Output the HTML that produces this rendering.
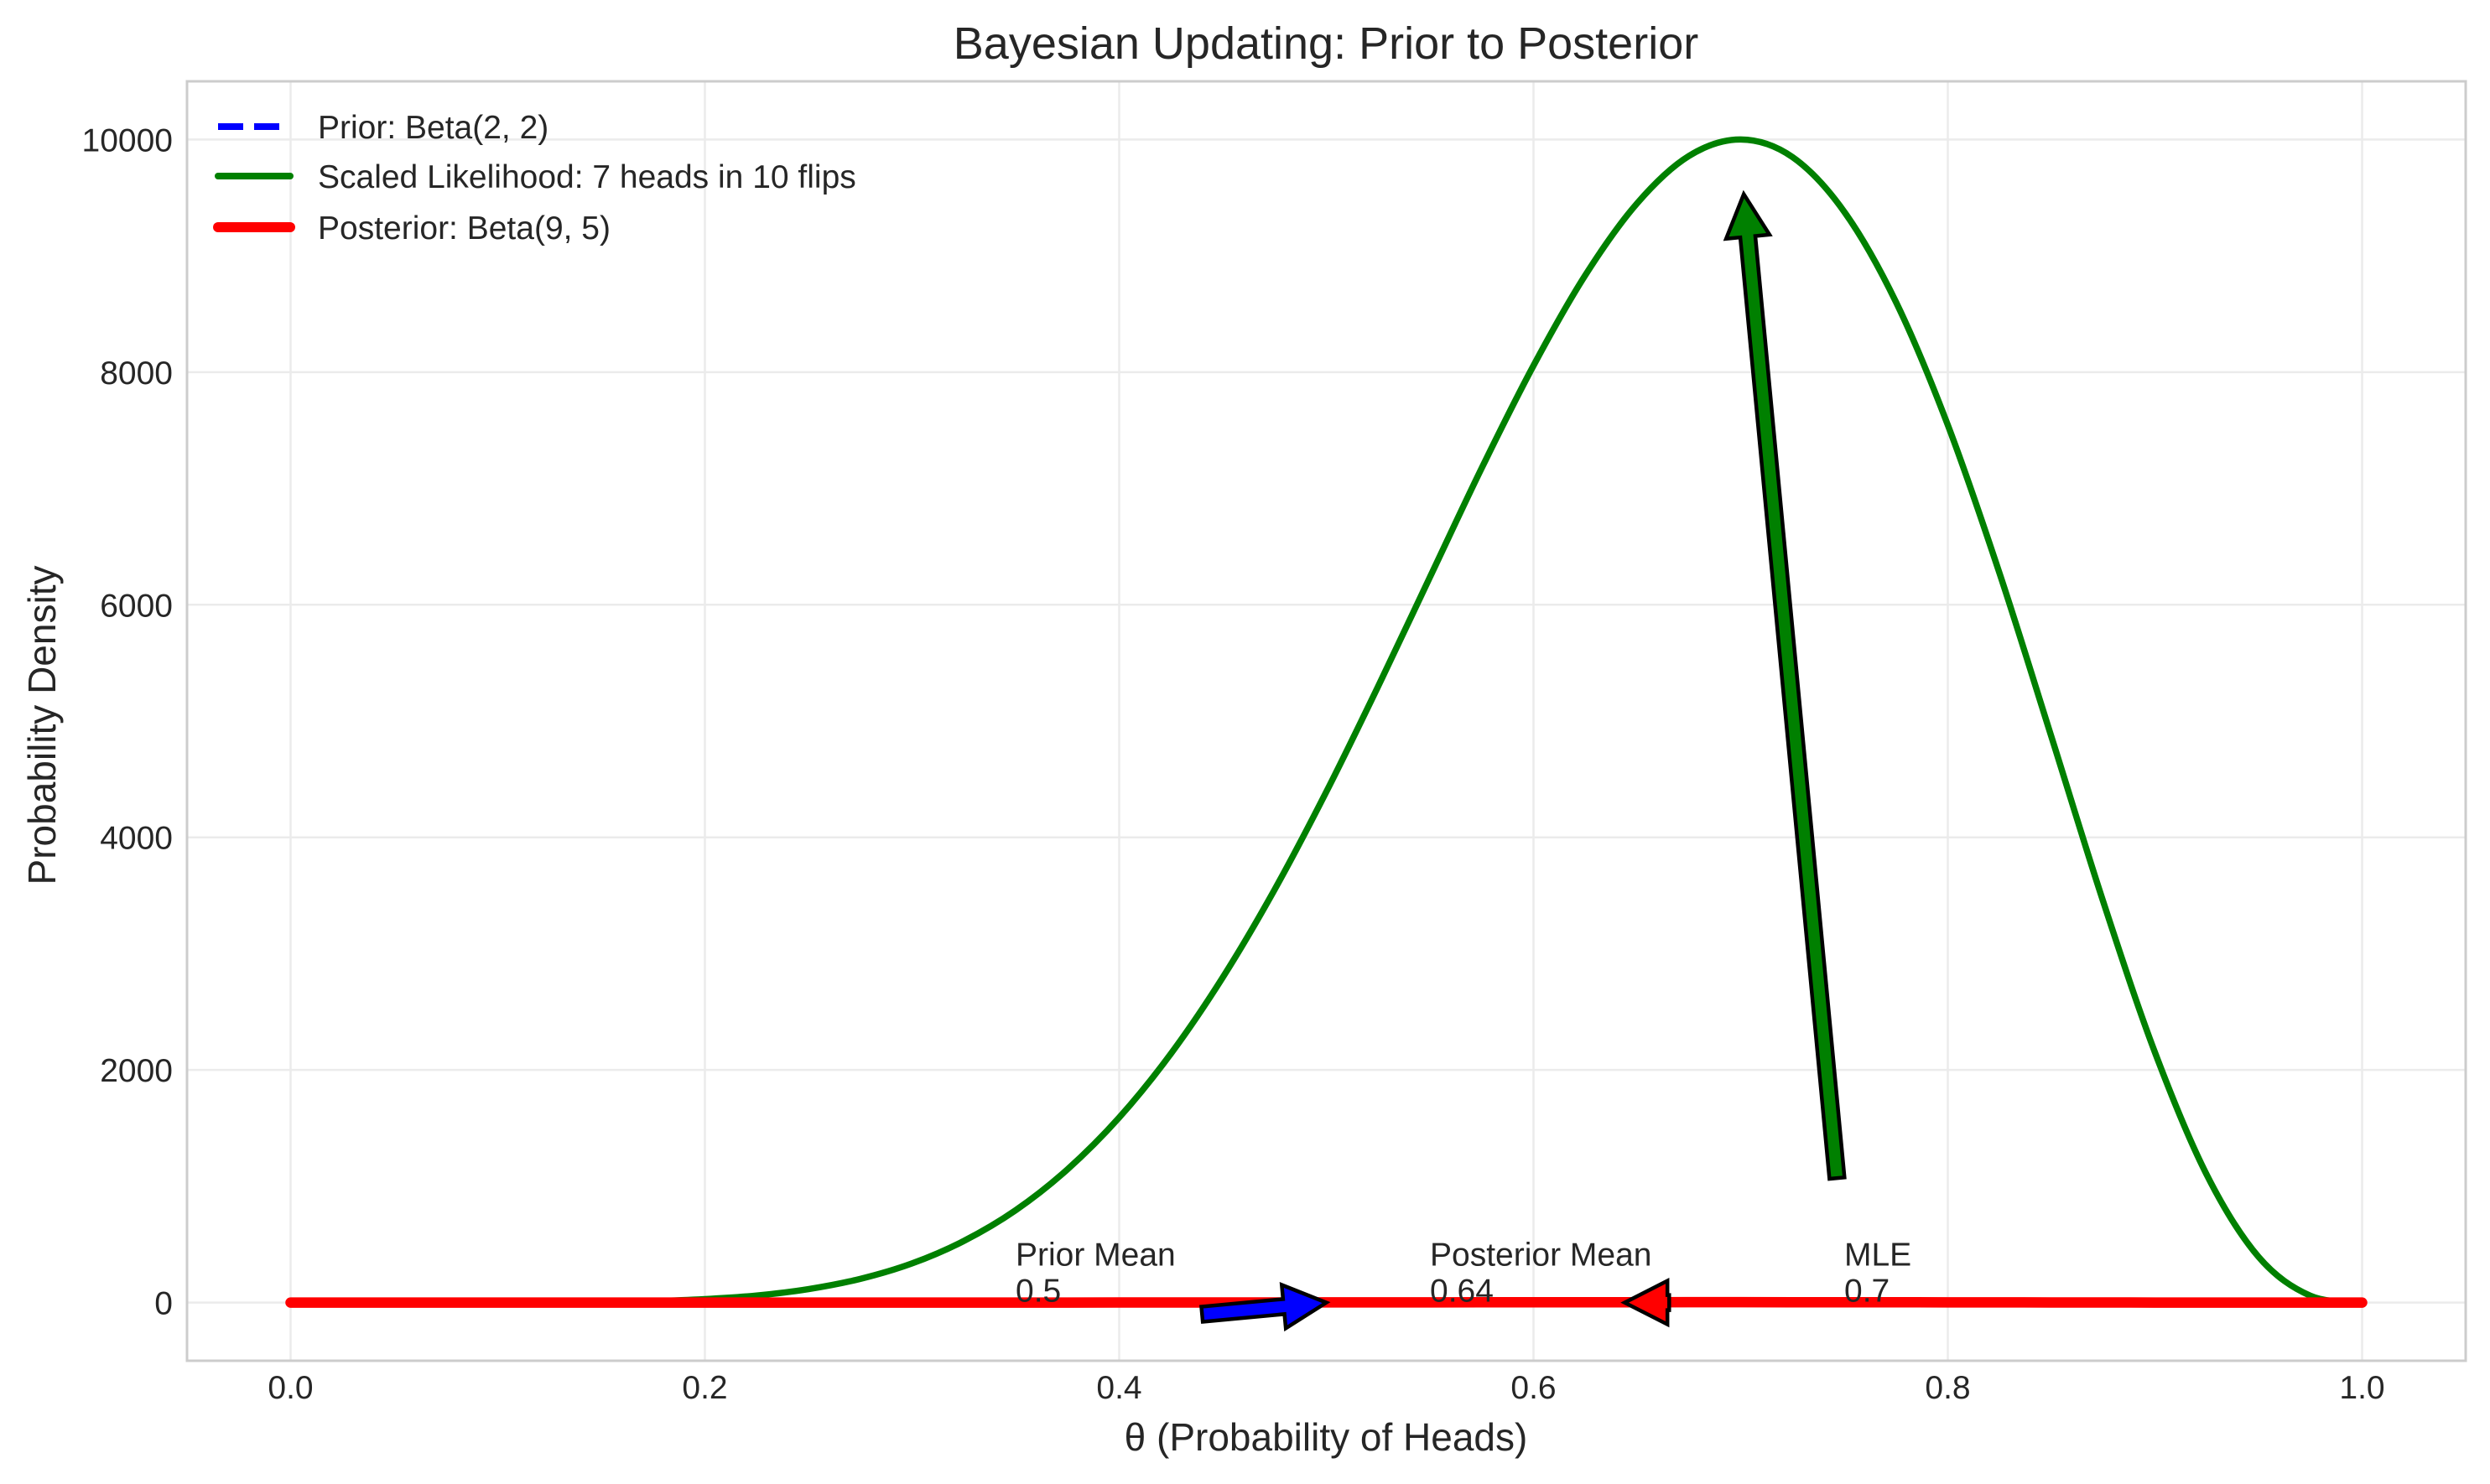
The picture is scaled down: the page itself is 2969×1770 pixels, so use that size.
<!DOCTYPE html>
<html><head><meta charset="utf-8"><style>
html,body{margin:0;padding:0;background:#fff;}
svg{display:block;font-family:"Liberation Sans",Arial,sans-serif;}
</style></head><body>
<svg id="chart" width="2969" height="1770" viewBox="0 0 2969 1770" xmlns="http://www.w3.org/2000/svg">
<rect x="0" y="0" width="2969" height="1770" fill="#fff"/>
<text x="1581" y="70" font-size="54" fill="#262626" text-anchor="middle">Bayesian Updating: Prior to Posterior</text>
<g id="grid"></g>
<g id="series"></g>
<g id="annots"></g>
<rect x="223" y="97" width="2717" height="1526" fill="none" stroke="#cccccc" stroke-width="3"/>
<g id="ticks"></g>
<text x="1581" y="1730" font-size="46" fill="#262626" text-anchor="middle">θ (Probability of Heads)</text>
<text transform="translate(66,865) rotate(-90)" font-size="46" fill="#262626" text-anchor="middle">Probability Density</text>
<g id="legend">
  <line x1="260" y1="151" x2="337" y2="151" stroke="#0000ff" stroke-width="8" stroke-dasharray="30,13"/>
  <text x="379" y="165" font-size="39" fill="#262626">Prior: Beta(2, 2)</text>
  <line x1="260" y1="210" x2="346" y2="210" stroke="#008000" stroke-width="8" stroke-linecap="round"/>
  <text x="379" y="224" font-size="39" fill="#262626">Scaled Likelihood: 7 heads in 10 flips</text>
  <line x1="260" y1="271" x2="346" y2="271" stroke="#ff0000" stroke-width="12" stroke-linecap="round"/>
  <text x="379" y="285" font-size="39" fill="#262626">Posterior: Beta(9, 5)</text>
</g>
</svg>
<script>
const likeTheta = [0,0.025,0.05,0.075,0.1,0.125,0.15,0.175,0.2,0.225,0.25,0.275,0.3,0.325,0.35,0.375,0.4,0.425,0.45,0.475,0.5,0.525,0.55,0.575,0.6,0.625,0.65,0.675,0.7,0.725,0.75,0.775,0.8,0.825,0.85,0.875,0.9,0.925,0.95,0.975,1.0];
const likelihoodValues = [0,0,0,0,0.3,1.5,5,12.7,30,61,116,204,337,530,794,1145,1591,2141,2796,3550,4392,5298,6237,7175,8056,8833,9451,9858,10000,9849,9379,8602,7545,6269,4866,3449,2151,1099,393,59,0];
const densTheta = [0,0.05,0.1,0.15,0.2,0.25,0.3,0.35,0.4,0.45,0.5,0.55,0.6,0.65,0.7,0.75,0.8,0.85,0.9,0.95,1.0];
const priorValues = [0,0.14,0.27,0.38,0.48,0.56,0.63,0.68,0.72,0.74,0.75,0.74,0.72,0.68,0.63,0.56,0.48,0.38,0.27,0.14,0];
const posteriorValues = [0,0,0,0,0.01,0.03,0.1,0.3,0.6,1.1,1.7,2.3,2.9,3.2,3.3,3.0,2.3,1.3,0.5,0.05,0];
const xTicks = [0.0,0.2,0.4,0.6,0.8,1.0];
const xTickLabels = ["0.0","0.2","0.4","0.6","0.8","1.0"];
const yTicks = [0,2000,4000,6000,8000,10000];
const yTickLabels = ["0","2000","4000","6000","8000","10000"];
const annotLabels = ["Prior Mean","Posterior Mean","MLE"];
const annotValues = ["0.5","0.64","0.7"];
const annotTextX = [0.35,0.55,0.75];
const annotTextY = [0,0,0];
const arrowTail = [[0.44,-100],[0.6655,0],[0.7465,1070]];
const arrowTip = [[0.5,0],[0.644,0],[0.7015,9530]];
const arrowColors = ["#0000ff","#ff0000","#008000"];

const NS = "http://www.w3.org/2000/svg";
const X0=-0.05, X1=1.05, Y0=-500, Y1=10500;
const PL=223, PR=2940, PT=97, PB=1623;
function sx(v){return PL+(v-X0)/(X1-X0)*(PR-PL);}
function sy(v){return PB-(v-Y0)/(Y1-Y0)*(PB-PT);}
function mk(tag, attrs, parent){const e=document.createElementNS(NS,tag);for(const k in attrs)e.setAttribute(k,attrs[k]);parent.appendChild(e);return e;}

const grid=document.getElementById('grid'), ticks=document.getElementById('ticks');
xTicks.forEach((t,i)=>{
  const g=mk('line',{x1:sx(t),x2:sx(t),y1:PT,y2:PB,stroke:'#ebebeb','stroke-width':2.5},grid);
  
  
  const l=mk('text',{x:sx(t),y:1668,'font-size':39,fill:'#262626','text-anchor':'middle'},ticks);
  l.textContent=xTickLabels[i];
  
  
});
yTicks.forEach((t,i)=>{
  const g=mk('line',{x1:PL,x2:PR,y1:sy(t),y2:sy(t),stroke:'#ebebeb','stroke-width':2.5},grid);
  
  
  const l=mk('text',{x:206,y:sy(t)+14,'font-size':39,fill:'#262626','text-anchor':'end'},ticks);
  l.textContent=yTickLabels[i];
  
  
});

function smoothPath(xs, ys){
  const p=xs.map((x,i)=>[sx(x),sy(ys[i])]);
  let d='M'+p[0][0]+','+p[0][1];
  for(let i=0;i<p.length-1;i++){
    const p0=p[Math.max(0,i-1)],p1=p[i],p2=p[i+1],p3=p[Math.min(p.length-1,i+2)];
    const c1=[p1[0]+(p2[0]-p0[0])/6,p1[1]+(p2[1]-p0[1])/6];
    const c2=[p2[0]-(p3[0]-p1[0])/6,p2[1]-(p3[1]-p1[1])/6];
    d+=' C'+c1[0]+','+c1[1]+' '+c2[0]+','+c2[1]+' '+p2[0]+','+p2[1];
  }
  return d;
}
const series=document.getElementById('series');
const pr=mk('path',{d:smoothPath(densTheta,priorValues),fill:'none',stroke:'#0000ff','stroke-width':8,'stroke-dasharray':'30,13'},series);


const lk=mk('path',{d:smoothPath(likeTheta,likelihoodValues),fill:'none',stroke:'#008000','stroke-width':7.5,'stroke-linejoin':'round'},series);


const po=mk('path',{d:smoothPath(densTheta,posteriorValues),fill:'none',stroke:'#ff0000','stroke-width':12.5,'stroke-linecap':'round'},series);



const annots=document.getElementById('annots');
function arrow(t0,t1,color,name){
  const x0=sx(t0[0]),y0=sy(t0[1]),x1=sx(t1[0]),y1=sy(t1[1]);
  const dx=x1-x0,dy=y1-y0,L=Math.hypot(dx,dy),ux=dx/L,uy=dy/L,nx=-uy,ny=ux;
  const hl=Math.min(51,L),hw=26,sw=9;
  const bx=x1-ux*hl,by=y1-uy*hl;
  let pts;
  if(L<=52){pts=[[bx+nx*hw,by+ny*hw],[x1,y1],[bx-nx*hw,by-ny*hw]];}
  else pts=[[x0+nx*sw,y0+ny*sw],[bx+nx*sw,by+ny*sw],[bx+nx*hw,by+ny*hw],[x1,y1],[bx-nx*hw,by-ny*hw],[bx-nx*sw,by-ny*sw],[x0-nx*sw,y0-ny*sw]];
  const a=mk('polygon',{points:pts.map(p=>p.join(',')).join(' '),fill:color,stroke:'#000','stroke-width':4.5,'stroke-linejoin':'miter'},annots);
  
  
}
const arrowNames=['prior-mean-arrow','posterior-mean-arrow','mle-arrow'];
arrowTail.forEach((t,i)=>arrow(t,arrowTip[i],arrowColors[i],arrowNames[i]));
annotLabels.forEach((lab,i)=>{
  const tx=mk('text',{x:sx(annotTextX[i]),y:sy(annotTextY[i])-44,'font-size':39,fill:'#262626'},annots);
  tx.textContent=lab;
  
  
  const tv=mk('text',{x:sx(annotTextX[i]),y:sy(annotTextY[i])-1,'font-size':39,fill:'#262626'},annots);
  tv.textContent=annotValues[i];
  
  
});
</script>
</body></html>
